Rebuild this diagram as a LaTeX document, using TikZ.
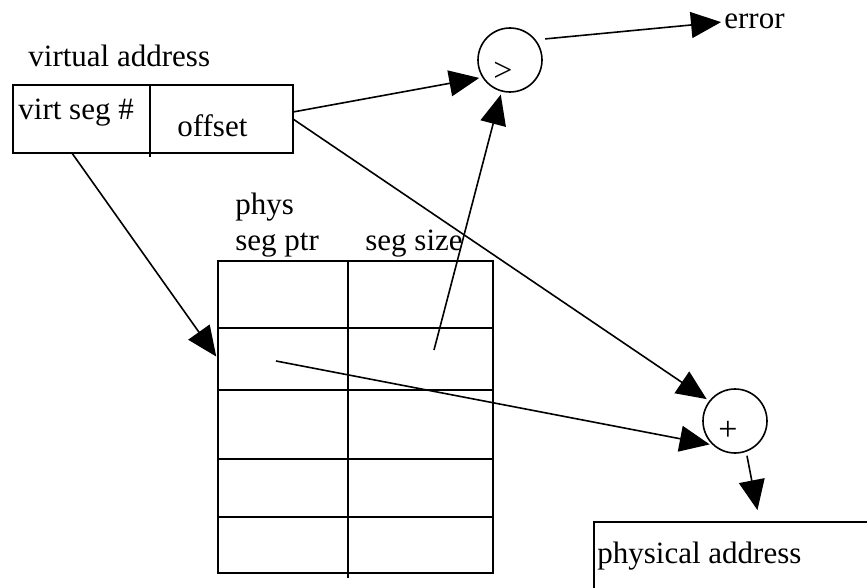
\documentclass[tikz,border=0pt]{standalone}
\usepackage{fontspec}
\setmainfont{Liberation Serif}
\usetikzlibrary{arrows.meta,positioning,calc}

\begin{document}
\begin{tikzpicture}[
    x=0.5pt, y=-0.5pt,
    lbl/.style={inner sep=0pt, font=\fontsize{15.5}{18}\selectfont},
    cell/.style={rectangle, draw, line width=1pt, inner sep=0pt, outer sep=0pt, anchor=north west},
    op/.style={circle, draw, line width=0.8pt, minimum size=32pt, inner sep=0pt},
    sign/.style={inner sep=0pt, font=\fontsize{17}{19}\selectfont},
    arrow/.style={-{Triangle[length=15pt, width=13pt]}, line width=0.8pt, shorten >=1.5pt}
]
\clip (0,0) rectangle (867,588);

% Virtual address
\node[lbl, anchor=base west] (vatitle) at (28,67) {virtual address};
\node[cell, minimum width=68.5pt, minimum height=34pt] (vseg) at (13,85) {};
\node[cell, minimum width=71.5pt, minimum height=34pt] (offs) at (150,85) {};
\draw[line width=1pt] (vseg.north east) -- ++(0,72);
\node[lbl, anchor=base west] (vsegtxt) at (18,120) {virt seg \#};
\node[lbl, anchor=base west] (offstxt) at (177,137) {offset};

% Segment table
\node[lbl, anchor=base west] (physlbl) at (235,215) {phys};
\node[lbl, anchor=base west] (ptrlbl) at (235,251) {seg ptr};
\node[lbl, anchor=base west] (sizelbl) at (365,251) {seg size};
\foreach \r/\ya/\h in {1/261/33.5pt, 2/328/31pt, 3/390/34.5pt, 4/459/29pt, 5/517/28pt} {
    \node[cell, minimum width=65pt, minimum height=\h] (ptr\r) at (218,\ya) {};
    \node[cell, minimum width=72.5pt, minimum height=\h] (size\r) at (348,\ya) {};
}
\draw[line width=1pt] (ptr5.south east) -- ++(0,5);

% Comparator and adder
\node[op] (cmp) at (510,60) {};
\node[sign] (cmpsign) at (503,72) {>};
\node[lbl, anchor=base west] (err) at (724,29) {error};
\node[op] (add) at (735,421) {};
\node[sign] (addsign) at (728,431) {+};

% Physical address
\node[cell, minimum width=145pt, minimum height=40pt] (phys) at (594,522) {};
\node[lbl, anchor=base west] (physaddr) at (597,563) {physical address};

% Free ends
\coordinate (segfrom) at ($(vseg.south west)!0.43!(vseg.south east)$);
\coordinate (ptrfrom) at (276,361);
\coordinate (sizefrom) at (434,350);
\coordinate (physto) at (758,513);

% Arrows
\draw[arrow] ([yshift=3.5pt]offs.east) -- (cmp.212);
\draw[arrow] (sizefrom) -- (cmp.255);
\draw[arrow] ([xshift=5pt]cmp.40) -- (err.west);
\draw[arrow] (offs.east) -- (add.142);
\draw[arrow] (ptrfrom) -- (add.227);
\draw[arrow] (segfrom) -- (ptr2.west);
\draw[arrow, shorten <=2pt] (add.290) -- (physto);

\end{tikzpicture}
\end{document}
